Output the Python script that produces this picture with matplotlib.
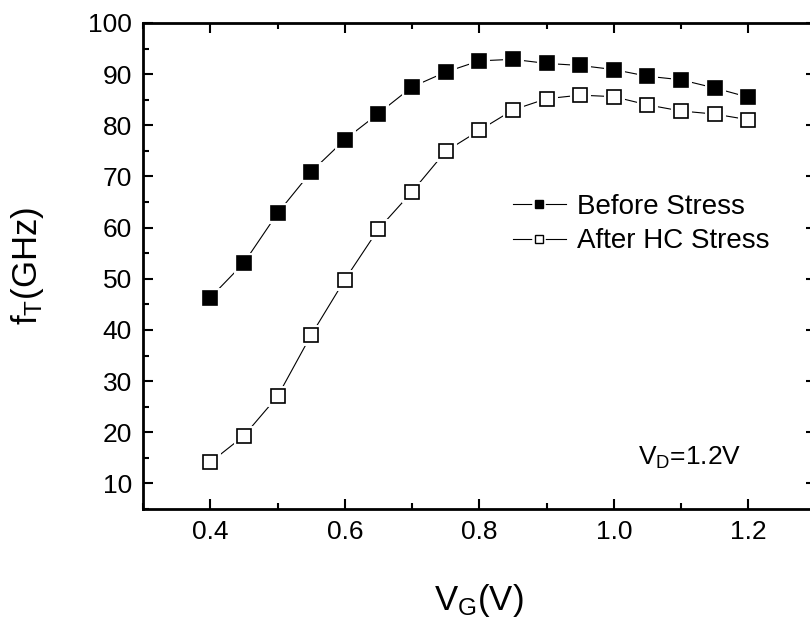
import matplotlib
matplotlib.use("Agg")
import matplotlib.pyplot as plt
from matplotlib.ticker import MultipleLocator
from matplotlib.lines import Line2D
from matplotlib.legend_handler import HandlerTuple

plt.rcParams['font.family'] = ['Liberation Sans', 'DejaVu Sans']
plt.rcParams['mathtext.fontset'] = 'custom'
plt.rcParams['mathtext.rm'] = 'Liberation Sans'
plt.rcParams['mathtext.it'] = 'Liberation Sans'

vg = [0.40, 0.45, 0.50, 0.55, 0.60, 0.65, 0.70, 0.75, 0.80, 0.85,
      0.90, 0.95, 1.00, 1.05, 1.10, 1.15, 1.20]
before_stress = [46.3, 53.1, 62.8, 70.9, 77.2, 82.3, 87.5, 90.4, 92.6, 92.9,
                 92.1, 91.7, 90.9, 89.6, 88.9, 87.3, 85.5]
after_hc_stress = [14.1, 19.3, 27.0, 39.0, 49.8, 59.7, 67.0, 74.9, 79.0, 83.0,
                   85.2, 85.9, 85.6, 84.0, 82.8, 82.2, 81.1]
xticks = [0.4, 0.6, 0.8, 1.0, 1.2]
yticks = [10, 20, 30, 40, 50, 60, 70, 80, 90, 100]
labels = ['Before Stress', 'After HC Stress']

fig = plt.figure(figsize=(8.1, 6.25), dpi=100)
ax = fig.add_axes([143/810, 116/625, 672.5/810, 486/625])

for ys, fc in [(before_stress, 'black'), (after_hc_stress, 'white')]:
    ax.plot(vg, ys, color='black', lw=0.8, zorder=2)
    ax.plot(vg, ys, ls='none', marker='s', ms=10, mfc='white', mec='white',
            mew=5, zorder=3)
    ax.plot(vg, ys, ls='none', marker='s', ms=10, mfc=fc, mec='black',
            mew=1.2, zorder=4)

ax.set_xlim(0.3, 1.3)
ax.set_ylim(5, 100)
ax.set_xticks(xticks)
ax.set_yticks(yticks)
ax.set_xticklabels([f"{v:.1f}" for v in xticks])
ax.xaxis.set_minor_locator(MultipleLocator(0.1))
ax.yaxis.set_minor_locator(MultipleLocator(5))
ax.tick_params(which='both', direction='in', top=True, right=True,
               labelsize=19, width=1.5, pad=8)
ax.tick_params(which='major', length=7.5)
ax.tick_params(which='minor', length=4)
for s in ax.spines.values():
    s.set_linewidth(2)

ax.set_xlabel(r'$\mathregular{V_G(V)}$', fontsize=25, labelpad=27)
ax.set_ylabel(r'$\mathregular{f_T(GHz)}$', fontsize=25, labelpad=30)

ax.text(0.736, 0.105, r'$\mathregular{V_D}$=1.2V', transform=ax.transAxes,
        fontsize=19, ha='left', va='center')

handles = []
for fc in ['black', 'white']:
    ln = Line2D([], [], color='black', lw=0.8)
    wm = Line2D([], [], ls='none', marker='s', ms=6, mfc='white', mec='white', mew=4)
    mk = Line2D([], [], ls='none', marker='s', ms=6, mfc=fc, mec='black', mew=1.0)
    handles.append((ln, wm, mk))
ax.legend(handles, labels, loc='center left',
          bbox_to_anchor=(0.550, 0.586), frameon=False, fontsize=20,
          handlelength=1.9, handletextpad=0.4, labelspacing=0.3,
          borderpad=0, borderaxespad=0,
          handler_map={tuple: HandlerTuple(ndivide=1, pad=0)})

fig.savefig('out.png', dpi=100)
